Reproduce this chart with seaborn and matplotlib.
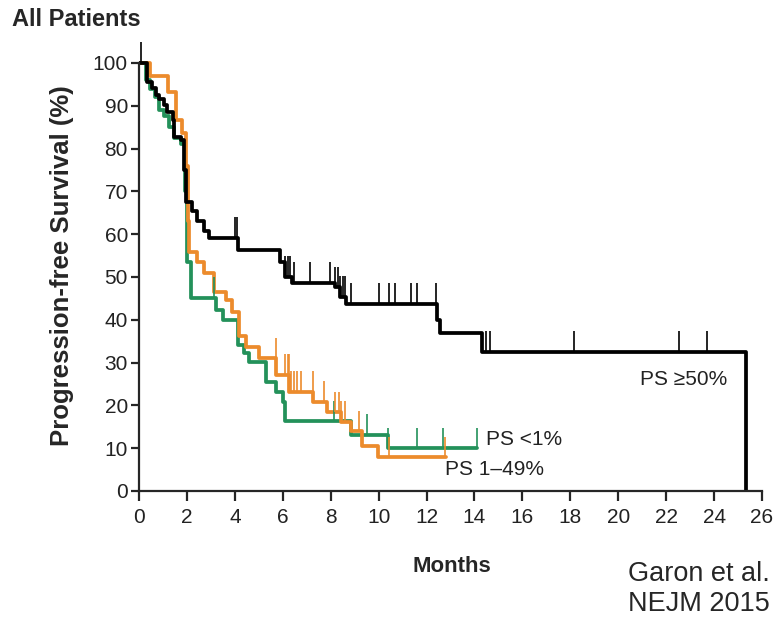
import numpy as np
import pandas as pd
import seaborn as sns
import matplotlib.pyplot as plt

# progression-free survival step curves (months, %)
hi_t = [0, 0.35, 0.56, 0.7, 0.84, 1.05, 1.18, 1.4, 1.46, 1.74, 1.88, 1.97, 2.2, 2.4,
        2.7, 2.93, 4.12, 5.88, 6.1, 6.4, 8.16, 8.37, 8.65, 12.45, 12.55, 14.3, 25.35]
hi_s = [100, 95.6, 94.1, 92.5, 91.7, 90.2, 88.6, 86.7, 82.8, 82.0, 75.0, 67.6, 65.5, 63.0,
        60.7, 59.1, 56.3, 53.6, 50.1, 48.7, 47.6, 45.4, 43.8, 40.0, 36.9, 32.5, 0]
hi_cens = [0.1, 4.0, 4.1, 6.1, 6.2, 6.3, 6.45, 7.15, 7.98, 8.2, 8.3, 8.4, 8.5, 8.6, 8.85,
           10.0, 10.45, 10.7, 11.35, 11.6, 12.4, 14.5, 14.65, 18.15, 22.55, 23.7]

mid_t = [0, 0.45, 1.23, 1.53, 1.81, 1.97, 2.03, 2.09, 2.44, 2.72, 3.13, 3.62, 3.9, 4.17,
         4.45, 5.0, 5.72, 6.27, 7.28, 7.85, 8.45, 8.85, 9.3, 9.97, 12.8]
mid_s = [100, 97.0, 93.3, 86.7, 83.6, 76.0, 63.0, 55.9, 53.6, 50.9, 46.6, 44.6, 41.9, 36.1,
         33.7, 31.0, 27.1, 23.2, 20.9, 18.4, 16.2, 14.0, 10.6, 7.9, 7.9]
mid_cens = [5.7, 6.1, 6.2, 6.25, 6.35, 6.45, 6.6, 6.77, 7.25, 7.7, 8.2, 8.35, 8.45, 8.58,
            9.17, 10.45, 12.75]

lo_t = [0, 0.3, 0.45, 0.65, 0.85, 1.05, 1.25, 1.45, 1.75, 1.9, 2.0, 2.15, 3.22, 3.5, 4.15,
        4.4, 4.6, 5.3, 5.7, 6.0, 6.1, 8.85, 10.4, 14.1]
lo_s = [100, 96.0, 94.0, 92.0, 89.0, 87.5, 85.0, 82.5, 81.0, 70.0, 53.5, 45.2, 42.4, 40.0,
        34.1, 32.2, 30.2, 25.5, 23.2, 20.9, 16.3, 13.2, 10.0, 10.0]
lo_cens = [3.15, 8.15, 9.5, 10.4, 11.6, 12.7, 14.1]

groups = ['PS <1%', 'PS 1\u201349%', 'PS \u226550%']
colors = ['#23915a', '#ec8b2c', '#000000']
x_ticks = list(range(0, 27, 2))
y_ticks = list(range(0, 101, 10))

curves = {groups[0]: (lo_t, lo_s, lo_cens),
          groups[1]: (mid_t, mid_s, mid_cens),
          groups[2]: (hi_t, hi_s, hi_cens)}

df = pd.concat([pd.DataFrame({'month': t, 'pfs': s, 'group': g})
                for g, (t, s, c) in curves.items()], ignore_index=True)

sns.set_style('ticks')
plt.rcParams['font.family'] = ['Liberation Sans', 'DejaVu Sans']

fig = plt.figure(figsize=(7.82, 6.24), dpi=100)
ax = fig.add_axes([139 / 782, 1 - 491 / 624, 623 / 782, 453.7 / 624])

sns.lineplot(data=df, x='month', y='pfs', hue='group', hue_order=groups,
             palette=dict(zip(groups, colors)), drawstyle='steps-post',
             estimator=None, sort=False, legend=False, linewidth=2.7, ax=ax)

# censor marks
for g, col in zip(groups, colors):
    t, s, c = curves[g]
    idx = np.searchsorted(t, c, side='right') - 1
    lev = np.asarray(s)[idx]
    ax.vlines(c, lev, lev + 4.8, color=col, linewidth=1.2)

ax.set_xlim(0, 26)
ax.set_ylim(0, 106)
ax.set_xticks(x_ticks)
ax.set_yticks(y_ticks)
ax.set_xlabel('')
ax.set_ylabel('')
ax.spines['left'].set_bounds(0, 100)
ax.spines['top'].set_visible(False)
ax.spines['right'].set_visible(False)
for sp in ('left', 'bottom'):
    ax.spines[sp].set_linewidth(1.6)
ax.tick_params(axis='y', length=6, width=1.6, labelsize=15, pad=2, labelcolor='#222222')
ax.tick_params(axis='x', length=7, width=1.6, labelsize=15, pad=5, labelcolor='#222222')

ax.text(20.9, 26, groups[2], fontsize=15, va='center', ha='left', color='#222222')
ax.text(14.5, 12, groups[0], fontsize=15, va='center', ha='left', color='#222222')
ax.text(12.75, 5, groups[1], fontsize=15, va='center', ha='left', color='#222222')

fig.text(12 / 782, 1 - 20 / 624, 'All Patients', fontsize=17, weight='bold', va='center')
fig.text(62 / 782, 1 - 266 / 624, 'Progression-free Survival (%)', fontsize=18.5,
         weight='bold', rotation=90, va='center', ha='center')
fig.text(452 / 782, 1 - 567 / 624, 'Months', fontsize=16, weight='bold',
         va='center', ha='center')
fig.text(628 / 782, 1 - 589 / 624, 'Garon et al.\nNEJM 2015', fontsize=19.5,
         va='center', ha='left', linespacing=1.2)

fig.savefig('out.png', dpi=100)
